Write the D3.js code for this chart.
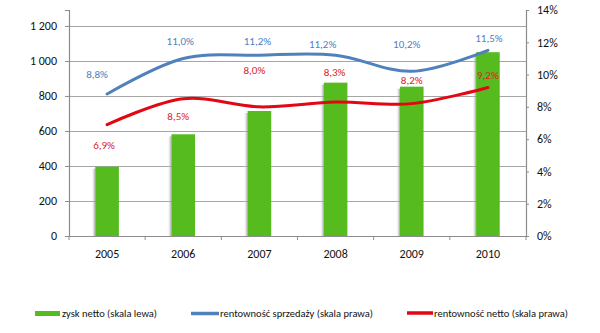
<!DOCTYPE html>
<html>
<head>
<meta charset="utf-8">
<script src="https://cdn.jsdelivr.net/npm/d3@7/dist/d3.min.js"></script>
<style>
  html, body { margin: 0; padding: 0; background: #fff; }
  svg { display: block; font-family: Carlito, Lato, "Open Sans", sans-serif; }
</style>
</head>
<body>
<svg id="chart" width="600" height="333"></svg>
<script>
// Years on the category axis
const years = ["2005", "2006", "2007", "2008", "2009", "2010"];
// Net profit (left scale)
const netProfit = [396, 581, 714, 876, 853, 1050];
// Return on sales, % (right scale)
const salesMargin = [8.8, 11.0, 11.2, 11.2, 10.2, 11.5];
// Net margin, % (right scale)
const netMargin = [6.9, 8.5, 8.0, 8.3, 8.2, 9.2];
// Axis tick values
const leftTicks = [0, 200, 400, 600, 800, 1000, 1200];
const rightTicks = [0, 2, 4, 6, 8, 10, 12, 14];
// Legend entries
const legendLabels = ["zysk netto (skala lewa)", "rentowność sprzedaży (skala prawa)", "rentowność netto (skala prawa)"];

// Label nudges (pixels) for the percentage labels, per point
const salesLabelShift = [[-10, -19], [-3, -16], [-2, -13], [-13, -10], [-5, -26], [1, -11]];
const netLabelShift = [[-3, 22], [-5, 19], [-5, -35], [-1, -29], [0, -22], [0, -11]];

const colors = { bar: "#55bb1e", blue: "#4f81bd", red: "#e30613", redText: "#d9262c", grid: "#a6a6a6", axis: "#8c8c8c", text: "#111" };

const svg = d3.select("#chart");
const plot = { left: 69, right: 526, top: 10, bottom: 236 };

const x = d3.scaleBand().domain(years).range([plot.left, plot.right]);
const yL = d3.scaleLinear().domain([0, 1291]).range([plot.bottom, plot.top]);
const yR = d3.scaleLinear().domain([0, 14]).range([plot.bottom, plot.top]);

const defs = svg.append("defs");
const shade = defs.append("linearGradient").attr("id", "barShade").attr("x1", 0).attr("x2", 1);
shade.append("stop").attr("offset", 0).attr("stop-color", "#fff").attr("stop-opacity", 0);
shade.append("stop").attr("offset", 1).attr("stop-color", "#777").attr("stop-opacity", 0.7);

// Horizontal gridlines from the left scale
svg.append("g")
  .selectAll("line")
  .data(leftTicks.filter(d => d > 0))
  .join("line")
  .attr("x1", plot.left).attr("x2", plot.right)
  .attr("y1", d => Math.round(yL(d)) + 0.5).attr("y2", d => Math.round(yL(d)) + 0.5)
  .attr("stroke", colors.grid).attr("stroke-width", 1.2);

// Bars with a soft left shadow
const barW = x.bandwidth() * 0.31;
const bars = svg.append("g");
bars.selectAll("rect.shadow")
  .data(years)
  .join("rect")
  .attr("class", "shadow")
  .attr("x", d => x(d) + x.bandwidth() / 2 - barW / 2 - 4)
  .attr("y", (d, i) => yL(netProfit[i]) + 2)
  .attr("width", 4)
  .attr("height", (d, i) => plot.bottom - yL(netProfit[i]) - 2)
  .attr("fill", "url(#barShade)");
bars.selectAll("rect.bar")
  .data(years)
  .join("rect")
  .attr("class", "bar")
  .attr("x", d => x(d) + x.bandwidth() / 2 - barW / 2)
  .attr("y", (d, i) => yL(netProfit[i]))
  .attr("width", barW)
  .attr("height", (d, i) => plot.bottom - yL(netProfit[i]))
  .attr("fill", colors.bar);

// Axes
const axisL = svg.append("g").attr("transform", `translate(${plot.left},0)`)
  .call(d3.axisLeft(yL).tickValues(leftTicks).tickSize(4).tickPadding(8)
    .tickFormat(d => d3.format(",")(d).replace(/,/g, " ")));
const axisR = svg.append("g").attr("transform", `translate(${plot.right},0)`)
  .call(d3.axisRight(yR).tickValues(rightTicks).tickSize(3).tickPadding(8).tickFormat(d => d + "%"));
const axisB = svg.append("g").attr("transform", `translate(0,${plot.bottom})`)
  .call(d3.axisBottom(x).tickSize(0).tickPadding(13));
// Category boundary ticks on the bottom axis
svg.append("g").selectAll("line")
  .data(d3.range(years.length + 1))
  .join("line")
  .attr("x1", i => plot.left + i * x.step()).attr("x2", i => plot.left + i * x.step())
  .attr("y1", plot.bottom).attr("y2", plot.bottom + 4)
  .attr("stroke", colors.axis);

[axisL, axisR, axisB].forEach(g => {
  g.selectAll(".domain").attr("stroke", colors.axis).attr("stroke-width", 1.2);
  g.selectAll(".tick line").attr("stroke", colors.axis);
  g.selectAll("text").attr("fill", colors.text).attr("font-size", 12)
    .attr("font-family", "Carlito, Lato, sans-serif");
});
axisB.select(".domain").attr("d", `M${plot.left},0.5H${plot.right}`);

// Smoothed margin lines (right scale)
const line = d3.line()
  .x((d, i) => x(years[i]) + x.bandwidth() / 2)
  .y(d => yR(d))
  .curve(d3.curveCatmullRom.alpha(0.5));

svg.append("path").datum(salesMargin).attr("d", line)
  .attr("fill", "none").attr("stroke", colors.blue).attr("stroke-width", 3).attr("stroke-linecap", "round");
svg.append("path").datum(netMargin).attr("d", line)
  .attr("fill", "none").attr("stroke", colors.red).attr("stroke-width", 3).attr("stroke-linecap", "round");

const fmtPct = v => d3.format(".1f")(v).replace(".", ",") + "%";

svg.append("g").selectAll("text")
  .data(salesMargin)
  .join("text")
  .attr("x", (d, i) => x(years[i]) + x.bandwidth() / 2 + salesLabelShift[i][0])
  .attr("y", (d, i) => yR(d) + salesLabelShift[i][1])
  .attr("text-anchor", "middle").attr("dominant-baseline", "middle")
  .attr("font-size", 11).attr("fill", colors.blue)
  .text(fmtPct);

svg.append("g").selectAll("text")
  .data(netMargin)
  .join("text")
  .attr("x", (d, i) => x(years[i]) + x.bandwidth() / 2 + netLabelShift[i][0])
  .attr("y", (d, i) => yR(d) + netLabelShift[i][1])
  .attr("text-anchor", "middle").attr("dominant-baseline", "middle")
  .attr("font-size", 11).attr("fill", colors.redText)
  .text(fmtPct);

// Legend
const legend = svg.append("g").attr("font-size", 10.5).attr("fill", colors.text);
const legendX = [35, 191, 407];
const swatchW = 26;
legend.append("rect").attr("x", legendX[0]).attr("y", 311).attr("width", swatchW - 1).attr("height", 5).attr("fill", colors.bar);
legend.append("line").attr("x1", legendX[1]).attr("x2", legendX[1] + swatchW + 2).attr("y1", 313.5).attr("y2", 313.5)
  .attr("stroke", colors.blue).attr("stroke-width", 3.5);
legend.append("line").attr("x1", legendX[2]).attr("x2", legendX[2] + swatchW).attr("y1", 313).attr("y2", 313)
  .attr("stroke", colors.red).attr("stroke-width", 3.5);
legend.selectAll("text")
  .data(legendLabels)
  .join("text")
  .attr("x", (d, i) => legendX[i] + swatchW + (i === 1 ? 3 : 1))
  .attr("y", 314)
  .attr("dominant-baseline", "middle")
  .text(d => d);
</script>
</body>
</html>
